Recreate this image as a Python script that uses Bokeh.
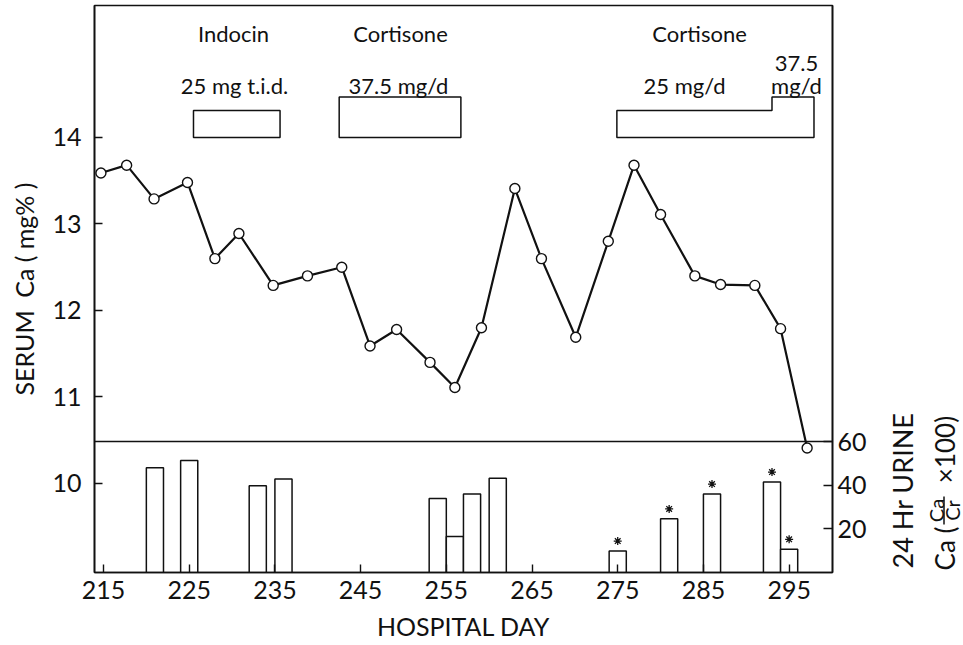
import math
from bokeh.plotting import figure
from bokeh.layouts import row
from bokeh.models import Range1d, LinearAxis, FixedTicker, Span, Label
from bokeh.core.properties import value
from bokeh.embed import file_html
from bokeh.resources import INLINE

# ---- data ----
serum_days = [214.7, 217.7, 220.9, 224.8, 228.0, 230.8, 234.8, 238.8, 242.8, 246.1,
              249.2, 253.1, 256.0, 259.1, 263.0, 266.1, 270.1, 273.9, 276.9, 280.0,
              284.0, 287.0, 291.0, 294.0, 297.1]
serum_ca = [13.59, 13.68, 13.29, 13.48, 12.60, 12.89, 12.29, 12.40, 12.50, 11.59,
            11.78, 11.40, 11.11, 11.80, 13.41, 12.60, 11.69, 12.80, 13.68, 13.11,
            12.40, 12.30, 12.29, 11.79, 10.41]

urine_days = [221, 225, 233, 236, 254, 256, 258, 261, 275, 281, 286, 293, 295]
urine_ratio = [48.0, 51.3, 39.7, 42.8, 33.9, 16.5, 35.9, 43.2, 9.9, 24.6, 36.0, 41.5, 10.7]
urine_starred = [False, False, False, False, False, False, False, False, True, True, True, True, True]

drug_start = [225.5, 242.5, 274.9, 293.0]
drug_end = [235.6, 256.7, 293.0, 297.9]
drug_dose = [25, 37.5, 25, 37.5]

x_ticks = [215, 225, 235, 245, 255, 265, 275, 285, 295]
left_ticks = [10, 11, 12, 13, 14]
right_ticks = [20, 40, 60]

FONT = "Lato"
BLACK = "#111111"

p = figure(width=872, height=645, output_backend="svg", toolbar_location=None,
           x_range=Range1d(213.95, 300.06), y_range=Range1d(8.971, 15.526),
           min_border_left=94, min_border_right=40, min_border_top=5, min_border_bottom=73,
           x_axis_location=None, y_axis_location=None)
p.xgrid.visible = False
p.ygrid.visible = False
p.outline_line_color = BLACK
p.outline_line_width = 1.6
p.background_fill_color = "white"
p.border_fill_color = "white"

p.extra_y_ranges = {"urine": Range1d(0, 259.7)}

def style_axis(ax):
    ax.axis_line_color = BLACK
    ax.axis_line_width = 1.6
    ax.major_tick_line_color = BLACK
    ax.major_tick_line_width = 1.4
    ax.major_tick_in = 8
    ax.major_tick_out = 0
    ax.minor_tick_line_color = None
    ax.major_label_text_font = FONT
    ax.major_label_text_font_size = "25px"
    ax.major_label_text_color = BLACK
    ax.axis_label_text_font = FONT
    ax.axis_label_text_font_style = "normal"
    ax.axis_label_text_color = BLACK
    ax.axis_label_text_font_size = "25px"

xax = LinearAxis(ticker=FixedTicker(ticks=x_ticks))
style_axis(xax)
xax.major_label_standoff = 8
xax.axis_label = "HOSPITAL DAY"
xax.axis_label_standoff = 9
p.add_layout(xax, "below")

lax = LinearAxis(ticker=FixedTicker(ticks=left_ticks))
style_axis(lax)
lax.major_label_standoff = 13
lax.axis_label = "SERUM\u2002Ca ( mg% )"
lax.axis_label_standoff = 10
p.add_layout(lax, "left")

rax = LinearAxis(ticker=FixedTicker(ticks=right_ticks), y_range_name="urine")
style_axis(rax)
rax.major_tick_in = 9
rax.major_label_standoff = 5
p.add_layout(rax, "right")

# separator line at urine = 60
p.add_layout(Span(location=60, dimension="width", y_range_name="urine",
                  line_color=BLACK, line_width=1.5))

# urine bars
p.vbar(x=urine_days, width=2, top=urine_ratio, bottom=0, y_range_name="urine",
       fill_color="white", line_color=BLACK, line_width=1.5)
star_x = [d for d, s in zip(urine_days, urine_starred) if s]
star_y = [v + 4.5 for v, s in zip(urine_ratio, urine_starred) if s]
p.scatter(star_x, star_y, marker="asterisk", size=8, line_color=BLACK, line_width=1.3,
          y_range_name="urine")

# drug boxes (height proportional to dose)
BASE = 14.0
SCALE = 0.0125
groups = []
for s, e, d in zip(drug_start, drug_end, drug_dose):
    if groups and abs(groups[-1][-1][1] - s) < 1e-6:
        groups[-1].append((s, e, d))
    else:
        groups.append([(s, e, d)])
xs, ys = [], []
for g in groups:
    px = [g[0][0], g[-1][1]]
    py = [BASE, BASE]
    for s, e, d in reversed(g):
        top = BASE + d * SCALE
        px += [e, s]
        py += [top, top]
    xs.append(px)
    ys.append(py)
p.patches(xs, ys, fill_color="white", fill_alpha=0, line_color=BLACK, line_width=1.5)

# serum calcium
p.line(serum_days, serum_ca, line_color=BLACK, line_width=2.2)
p.scatter(serum_days, serum_ca, size=10, fill_color="white", line_color=BLACK, line_width=1.4)

def lab(x, y, text, size="22px"):
    p.add_layout(Label(x=x, y=y, text=text, text_font=FONT, text_font_size=size,
                       text_color=BLACK, text_align="center", text_baseline="middle"))

lab(230.17, 15.20, "Indocin")
lab(249.66, 15.20, "Cortisone")
lab(284.55, 15.20, "Cortisone")
lab(230.29, 14.60, "25 mg t.i.d.")
lab(249.42, 14.60, "37.5 mg/d")
lab(282.80, 14.60, "25 mg/d")
lab(295.86, 14.855, "37.5")
lab(295.86, 14.60, "mg/d")

# ---- right-hand title panel (urine axis title with fraction) ----
# its frame is aligned with the main frame (page rows 5..572), coordinates in page pixels
q = figure(width=91, height=645, output_backend="svg", toolbar_location=None,
           x_range=Range1d(872, 963), y_range=Range1d(572, 5),
           min_border_left=0, min_border_right=0, min_border_top=5, min_border_bottom=73,
           x_axis_location=None, y_axis_location=None)
q.xgrid.visible = False
q.ygrid.visible = False
q.outline_line_color = None
q.background_fill_color = "white"
q.border_fill_color = "white"

def vtext(x, y, text, size):
    q.text(x=[x], y=[y], text=[text], angle=math.pi / 2, text_font=value(FONT),
           text_font_size=value(size), text_color=BLACK,
           text_align="center", text_baseline="middle")

vtext(902, 490, "24 Hr URINE", "27px")
vtext(944, 548, "Ca (", "26px")
vtext(935, 510, "Ca", "20px")
vtext(951, 510, "Cr", "20px")
q.segment(x0=[943.5], y0=[524], x1=[943.5], y1=[496], line_color=BLACK, line_width=1.5)
vtext(944, 449, "\u00d7100)", "26px")

layout = row(p, q, spacing=0)
open("out.html", "w").write(file_html(layout, INLINE))
